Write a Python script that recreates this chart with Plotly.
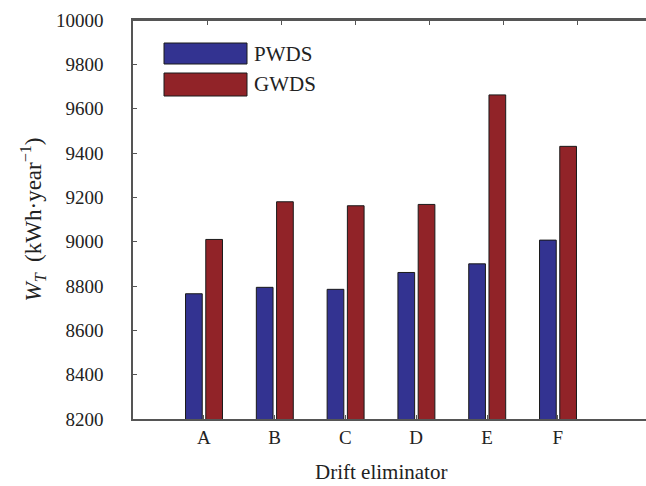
import plotly.graph_objects as go

categories = ["A", "B", "C", "D", "E", "F"]
series_names = ["PWDS", "GWDS"]
pwds = [8765, 8794, 8785, 8861, 8900, 9007]
gwds = [9010, 9180, 9162, 9168, 9662, 9430]
y_ticks = list(range(8200, 10001, 200))

colors = ["#333391", "#912328"]
FF = "Liberation Serif, Times New Roman, serif"

W, H = 646, 486
ml, mr, mt, mb = 133, 0, 20, 67
pw, ph = W - ml - mr, H - mt - mb

fig = go.Figure()
bw = 0.236
offsets = [-0.258, 0.028]
for name, vals, col, off in zip(series_names, [pwds, gwds], colors, offsets):
    fig.add_trace(go.Bar(
        x=categories, y=vals, name=name, width=bw, offset=off,
        marker=dict(color=col, line=dict(color="#1a1a1a", width=1)),
        showlegend=False,
    ))

# carrier trace for the top axis (no visible marks)
fig.add_trace(go.Scatter(x=[1], y=[None], mode="markers", xaxis="x2", yaxis="y",
                         marker=dict(opacity=0), showlegend=False, hoverinfo="skip"))

axis_col = "#555555"
fig.update_layout(
    width=W, height=H,
    margin=dict(l=ml, r=mr, t=mt, b=mb, autoexpand=False),
    plot_bgcolor="white", paper_bgcolor="white",
    font=dict(family=FF, size=18, color="#222222"),
    barmode="overlay",
    xaxis=dict(
        type="category", categoryorder="array", categoryarray=categories,
        range=[-1, -1 + pw / 70.8], showline=True, mirror=True,
        linecolor=axis_col, linewidth=1.5,
        ticks="inside", ticklen=4, tickcolor=axis_col, showgrid=False,
        zeroline=False, tickfont=dict(family=FF, size=19, color="#222222"),
    ),
    xaxis2=dict(
        type="linear", overlaying="x", anchor="free", position=1.0, side="top",
        range=[0, pw / 74.1], autorange=False, showline=True,
        linecolor=axis_col, linewidth=1.5, ticks="inside", ticklen=4,
        tickcolor=axis_col, tickmode="linear", tick0=1, dtick=1,
        showticklabels=False, showgrid=False, zeroline=False,
    ),
    yaxis=dict(
        range=[8200, 10000], tickmode="array", tickvals=y_ticks, tickformat="d",
        showline=True, linecolor=axis_col,
        linewidth=1.5, ticks="inside", ticklen=4, tickcolor=axis_col,
        showgrid=False, zeroline=False, ticklabelstandoff=24,
        tickfont=dict(family=FF, size=19, color="#222222"),
        title=dict(text="<i>W</i><sub><i>T</i></sub>  (kWh·year<sup>−1</sup>)",
                   font=dict(family=FF, size=23, color="#222222"), standoff=8),
    ),
)

fig.add_annotation(text="Drift eliminator", xref="x", yref="paper",
                   x=(len(categories) - 1) / 2, y=-0.133, showarrow=False,
                   font=dict(family=FF, size=21, color="#222222"),
                   xanchor="center", yanchor="middle")

def px_x(p):
    return (p - ml) / pw

def px_y(p):
    return (H - mb - p) / ph

leg_rows = [(43, 64, 54), (73, 96, 84)]
for (y0, y1, yc), name, col in zip(leg_rows, series_names, colors):
    fig.add_shape(type="rect", xref="paper", yref="paper",
                  x0=px_x(164), x1=px_x(247), y0=px_y(y1), y1=px_y(y0),
                  fillcolor=col, line=dict(color="#1a1a1a", width=1))
    fig.add_annotation(text=name, xref="paper", yref="paper", x=px_x(252), y=px_y(yc),
                       showarrow=False, xanchor="left", yanchor="middle",
                       font=dict(family=FF, size=21, color="#222222"))

fig.write_html("out.html", config={"displayModeBar": False},
               post_script="document.body.style.margin='0';document.body.style.padding='0';")
